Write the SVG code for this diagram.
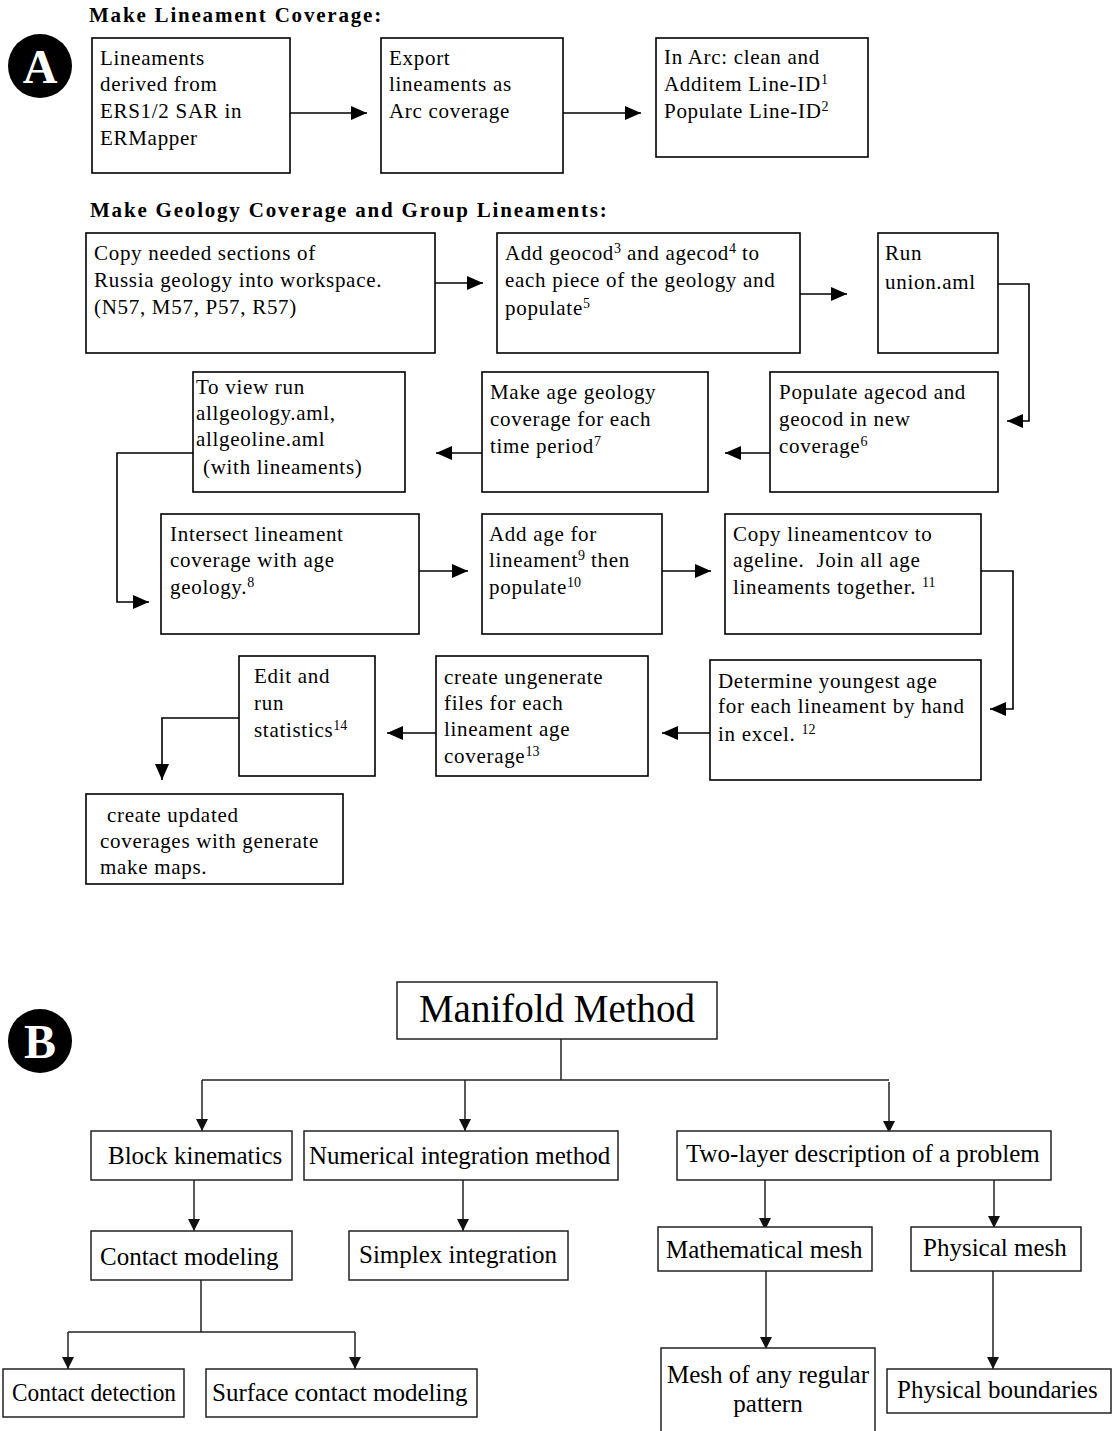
<svg xmlns="http://www.w3.org/2000/svg" width="1113" height="1431" viewBox="0 0 1113 1431">
<style>
  .bx{fill:#fff;stroke:#000;stroke-width:1.6}
  .bb{fill:#fff;stroke:#222;stroke-width:1.5}
  .t{font-family:"Liberation Serif","Times New Roman",serif;font-size:21px;letter-spacing:0.7px;fill:#000}
  .h{font-family:"Liberation Serif","Times New Roman",serif;font-size:21px;font-weight:bold;letter-spacing:1.8px;fill:#000}
  .b{font-family:"Liberation Serif","Times New Roman",serif;font-size:25px;fill:#000}
  .m{font-family:"Liberation Serif","Times New Roman",serif;font-size:39px;fill:#000}
  .s{font-size:14px;letter-spacing:0}
  .c{fill:none;stroke:#000;stroke-width:1.6}
  .cb{fill:none;stroke:#222;stroke-width:1.5}
  .lt{font-family:"Liberation Serif","Times New Roman",serif;font-size:48px;font-weight:bold;fill:#fff}
</style>
<defs>
  <marker id="ah" markerUnits="userSpaceOnUse" markerWidth="16" markerHeight="14" refX="16" refY="7" orient="auto">
    <path d="M0,0 L16,7 L0,14 z" fill="#000"/>
  </marker>
  <marker id="bh" markerUnits="userSpaceOnUse" markerWidth="12" markerHeight="12" refX="12" refY="6" orient="auto">
    <path d="M0,0 L12,6 L0,12 z" fill="#111"/>
  </marker>
</defs>
<rect width="1113" height="1431" fill="#fff"/>

<!-- Part A -->
<g id="labelA"><circle cx="40" cy="66" r="32" fill="#000"/><text class="lt" x="40" y="83" text-anchor="middle">A</text></g>
<text class="h" x="89" y="22">Make Lineament Coverage:</text>
<text class="h" x="90" y="217">Make Geology Coverage and Group Lineaments:</text>

<g id="connectors">
  <line class="c" x1="290" y1="113" x2="367" y2="113" marker-end="url(#ah)"/>
  <line class="c" x1="563" y1="113" x2="641" y2="113" marker-end="url(#ah)"/>
  <line class="c" x1="435" y1="283" x2="483" y2="283" marker-end="url(#ah)"/>
  <line class="c" x1="800" y1="294" x2="847" y2="294" marker-end="url(#ah)"/>
  <polyline class="c" points="998,284 1029,284 1029,421 1007,421" marker-end="url(#ah)"/>
  <line class="c" x1="770" y1="453" x2="725" y2="453" marker-end="url(#ah)"/>
  <line class="c" x1="482" y1="453" x2="436" y2="453" marker-end="url(#ah)"/>
  <polyline class="c" points="193,453 117,453 117,602 149,602" marker-end="url(#ah)"/>
  <line class="c" x1="419" y1="571" x2="468" y2="571" marker-end="url(#ah)"/>
  <line class="c" x1="662" y1="571" x2="711" y2="571" marker-end="url(#ah)"/>
  <polyline class="c" points="981,571 1013,571 1013,709 990,709" marker-end="url(#ah)"/>
  <line class="c" x1="710" y1="733" x2="662" y2="733" marker-end="url(#ah)"/>
  <line class="c" x1="436" y1="733" x2="387" y2="733" marker-end="url(#ah)"/>
  <polyline class="c" points="239,718 162,718 162,780" marker-end="url(#ah)"/>

  <!-- Part B -->
  <line class="cb" x1="561" y1="1039" x2="561" y2="1080"/>
  <line class="cb" x1="202" y1="1080" x2="889" y2="1080"/>
  <line class="cb" x1="202" y1="1080" x2="202" y2="1131" marker-end="url(#bh)"/>
  <line class="cb" x1="465" y1="1080" x2="465" y2="1131" marker-end="url(#bh)"/>
  <line class="cb" x1="889" y1="1082" x2="889" y2="1133" marker-end="url(#bh)"/>
  <line class="cb" x1="194" y1="1180" x2="194" y2="1231" marker-end="url(#bh)"/>
  <line class="cb" x1="463" y1="1180" x2="463" y2="1231" marker-end="url(#bh)"/>
  <line class="cb" x1="765" y1="1180" x2="765" y2="1230" marker-end="url(#bh)"/>
  <line class="cb" x1="994" y1="1180" x2="994" y2="1228" marker-end="url(#bh)"/>
  <line class="cb" x1="766" y1="1271" x2="766" y2="1349" marker-end="url(#bh)"/>
  <line class="cb" x1="993" y1="1271" x2="993" y2="1369" marker-end="url(#bh)"/>
  <line class="cb" x1="201" y1="1280" x2="201" y2="1332"/>
  <line class="cb" x1="68" y1="1332" x2="355" y2="1332"/>
  <line class="cb" x1="68" y1="1332" x2="68" y2="1369" marker-end="url(#bh)"/>
  <line class="cb" x1="355" y1="1332" x2="355" y2="1369" marker-end="url(#bh)"/>
</g>

<g id="a1"><rect class="bx" x="92" y="38" width="198" height="135"/>
<text class="t"><tspan x="100" y="65">Lineaments</tspan><tspan x="100" y="91">derived from</tspan><tspan x="100" y="118">ERS1/2 SAR in</tspan><tspan x="100" y="145">ERMapper</tspan></text></g>

<g id="a2"><rect class="bx" x="381" y="38" width="182" height="135"/>
<text class="t"><tspan x="389" y="65">Export</tspan><tspan x="389" y="91">lineaments as</tspan><tspan x="389" y="118">Arc coverage</tspan></text></g>

<g id="a3"><rect class="bx" x="656" y="38" width="212" height="119"/>
<text class="t"><tspan x="664" y="64">In Arc: clean and</tspan><tspan x="664" y="91">Additem Line-ID</tspan><tspan class="s" dy="-7">1</tspan><tspan x="664" y="118">Populate Line-ID</tspan><tspan class="s" dy="-7">2</tspan></text></g>

<g id="a4"><rect class="bx" x="86" y="233" width="349" height="120"/>
<text class="t"><tspan x="94" y="260">Copy needed sections of</tspan><tspan x="94" y="287">Russia geology into workspace.</tspan><tspan x="94" y="314">(N57, M57, P57, R57)</tspan></text></g>

<g id="a5"><rect class="bx" x="497" y="233" width="303" height="120"/>
<text class="t"><tspan x="505" y="260">Add geocod</tspan><tspan class="s" dy="-7">3</tspan><tspan dy="7"> and agecod</tspan><tspan class="s" dy="-7">4</tspan><tspan dy="7"> to</tspan><tspan x="505" y="287">each piece of the geology and</tspan><tspan x="505" y="315">populate</tspan><tspan class="s" dy="-7">5</tspan></text></g>

<g id="a6"><rect class="bx" x="878" y="233" width="120" height="120"/>
<text class="t"><tspan x="885" y="260">Run</tspan><tspan x="885" y="289">union.aml</tspan></text></g>

<g id="a7"><rect class="bx" x="770" y="372" width="228" height="120"/>
<text class="t"><tspan x="779" y="399">Populate agecod and</tspan><tspan x="779" y="426">geocod in new</tspan><tspan x="779" y="453">coverage</tspan><tspan class="s" dy="-7">6</tspan></text></g>

<g id="a8"><rect class="bx" x="482" y="372" width="226" height="120"/>
<text class="t"><tspan x="490" y="399">Make age geology</tspan><tspan x="490" y="426">coverage for each</tspan><tspan x="490" y="453">time period</tspan><tspan class="s" dy="-7">7</tspan></text></g>

<g id="a9"><rect class="bx" x="193" y="372" width="212" height="120"/>
<text class="t"><tspan x="196" y="394">To view run</tspan><tspan x="196" y="420">allgeology.aml,</tspan><tspan x="196" y="446">allgeoline.aml</tspan><tspan x="203" y="474">(with lineaments)</tspan></text></g>

<g id="a10"><rect class="bx" x="161" y="514" width="258" height="120"/>
<text class="t"><tspan x="170" y="541">Intersect lineament</tspan><tspan x="170" y="567">coverage with age</tspan><tspan x="170" y="594">geology.</tspan><tspan class="s" dy="-7">8</tspan></text></g>

<g id="a11"><rect class="bx" x="482" y="514" width="180" height="120"/>
<text class="t"><tspan x="489" y="541">Add age for</tspan><tspan x="489" y="567">lineament</tspan><tspan class="s" dy="-7">9</tspan><tspan dy="7"> then</tspan><tspan x="489" y="594">populate</tspan><tspan class="s" dy="-7">10</tspan></text></g>

<g id="a12"><rect class="bx" x="725" y="514" width="256" height="120"/>
<text class="t" xml:space="preserve"><tspan x="733" y="541">Copy lineamentcov to</tspan><tspan x="733" y="567">ageline.  Join all age</tspan><tspan x="733" y="594">lineaments together. </tspan><tspan class="s" dy="-7">11</tspan></text></g>

<g id="a13"><rect class="bx" x="710" y="660" width="271" height="120"/>
<text class="t"><tspan x="718" y="688">Determine youngest age</tspan><tspan x="718" y="713">for each lineament by hand</tspan><tspan x="718" y="741">in excel. </tspan><tspan class="s" dy="-7">12</tspan></text></g>

<g id="a14"><rect class="bx" x="436" y="656" width="212" height="120"/>
<text class="t"><tspan x="444" y="684">create ungenerate</tspan><tspan x="444" y="710">files for each</tspan><tspan x="444" y="736">lineament age</tspan><tspan x="444" y="763">coverage</tspan><tspan class="s" dy="-7">13</tspan></text></g>

<g id="a15"><rect class="bx" x="239" y="656" width="136" height="120"/>
<text class="t"><tspan x="254" y="683">Edit and</tspan><tspan x="254" y="710">run</tspan><tspan x="254" y="737">statistics</tspan><tspan class="s" dy="-7">14</tspan></text></g>

<g id="a16"><rect class="bx" x="86" y="794" width="257" height="90"/>
<text class="t"><tspan x="107" y="822">create updated</tspan><tspan x="100" y="848">coverages with generate</tspan><tspan x="100" y="874">make maps.</tspan></text></g>

<!-- Part B -->
<g id="labelB"><circle cx="40" cy="1041" r="32" fill="#000"/><text class="lt" x="40" y="1058" text-anchor="middle">B</text></g>

<g id="b0"><rect class="bb" x="397" y="982" width="320" height="57"/><text class="m" x="557" y="1022" text-anchor="middle">Manifold Method</text></g>
<g id="b1"><rect class="bb" x="91" y="1131" width="201" height="49"/><text class="b" x="108" y="1164">Block kinematics</text></g>
<g id="b2"><rect class="bb" x="304" y="1131" width="314" height="49"/><text class="b" x="309" y="1164">Numerical integration method</text></g>
<g id="b3"><rect class="bb" x="677" y="1131" width="374" height="49"/><text class="b" x="686" y="1162">Two-layer description of a problem</text></g>
<g id="b4"><rect class="bb" x="91" y="1231" width="201" height="49"/><text class="b" x="100" y="1265">Contact modeling</text></g>
<g id="b5"><rect class="bb" x="349" y="1231" width="219" height="49"/><text class="b" x="359" y="1263">Simplex integration</text></g>
<g id="b6"><rect class="bb" x="658" y="1227" width="214" height="44"/><text class="b" x="666" y="1258">Mathematical mesh</text></g>
<g id="b7"><rect class="bb" x="911" y="1227" width="170" height="44"/><text class="b" x="923" y="1256">Physical mesh</text></g>
<g id="b8"><rect class="bb" x="661" y="1348" width="214" height="90"/><text class="b" x="768" y="1383" text-anchor="middle">Mesh of any regular</text><text class="b" x="768" y="1412" text-anchor="middle">pattern</text></g>
<g id="b9"><rect class="bb" x="887" y="1369" width="224" height="44"/><text class="b" x="897" y="1398">Physical boundaries</text></g>
<g id="b10"><rect class="bb" x="3" y="1369" width="181" height="48"/><text class="b" x="12" y="1401" textLength="164" lengthAdjust="spacingAndGlyphs">Contact detection</text></g>
<g id="b11"><rect class="bb" x="206" y="1369" width="271" height="48"/><text class="b" x="212" y="1401">Surface contact modeling</text></g>
</svg>
